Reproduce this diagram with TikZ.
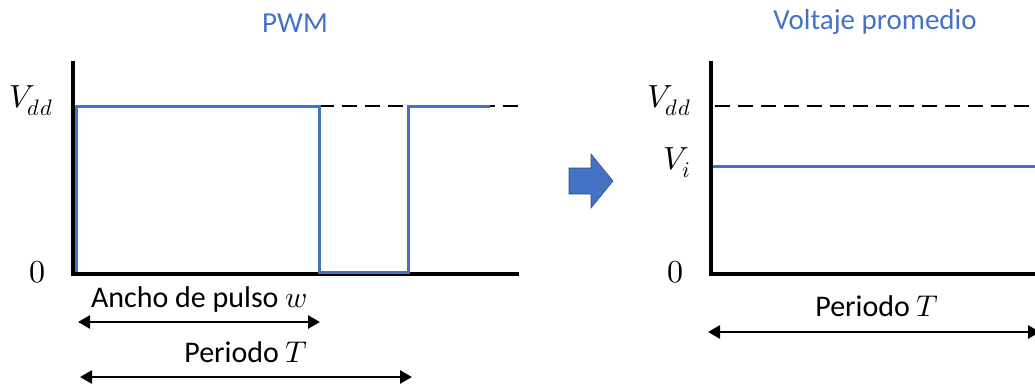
\documentclass[tikz,border=0pt]{standalone}
\usepackage{fontspec}
\usepackage{unicode-math}
\setmainfont{Carlito}
\setmathfont{Latin Modern Math}
\usetikzlibrary{arrows.meta}
\definecolor{wblue}{HTML}{4472C4}
\definecolor{wblueD}{HTML}{2F528F}
\begin{document}
\begin{tikzpicture}[x=1pt,y=-1pt,
  axis/.style={line width=4pt,black},
  wave/.style={line width=3pt,wblue},
  ref/.style={line width=2pt,black,dash pattern=on 15pt off 8pt},
  span/.style={line width=2.6pt,black,{Triangle[length=12pt,width=13pt]}-{Triangle[length=12pt,width=13pt]}},
  lbl/.style={inner sep=0pt,font=\fontsize{30}{32}\selectfont},
  mlbl/.style={inner sep=0pt,font=\fontsize{32}{34}\selectfont},
  ttl/.style={inner sep=0pt,font=\fontsize{29}{31}\selectfont,text=wblue}]
\useasboundingbox (0,0) rectangle (1035,384);
% ---------- left plot ----------
\coordinate (ltop) at (73,61);
\coordinate (lend) at (519,274);
\draw[axis] (73,276) -- (ltop);
\draw[axis] (71,274) -- (lend);
\coordinate (w0) at (76,272);
\coordinate (w1) at (76,106);
\coordinate (w2) at (319,106);
\coordinate (w3) at (319,272);
\coordinate (w4) at (408,272);
\coordinate (w5) at (408,106);
\coordinate (w6) at (490,106);
\coordinate (d1) at (520,106);
\draw[ref] (w2) -- (d1);
\draw[wave] (w0) -- (w1) -- (w2) -- (w3) -- (w4) -- (w5) -- (w6);
\node[mlbl] (lvdd) at (31,101) {$V_{dd}$};
\node[mlbl] (lzero) at (37,272) {$0$};
\node[ttl] (pwm) at (295,23) {PWM};
\node[lbl] (ancho) at (199,299) {Ancho de pulso $w$};
\coordinate (a1l) at (78,322);
\coordinate (a1r) at (320,322);
\draw[span] (a1l) -- (a1r);
\node[lbl] (per1) at (246,352) {Periodo $T$};
\coordinate (a2l) at (80,377);
\coordinate (a2r) at (412,377);
\draw[span] (a2l) -- (a2r);
% ---------- block arrow ----------
\fill[wblue,draw=wblueD,line width=0.6pt] (569,168) -- (591,168) -- (591,154) -- (613,181) -- (591,208) -- (591,194) -- (569,194) -- cycle;
% ---------- right plot ----------
\coordinate (rtop) at (711,61);
\coordinate (rend) at (1045,274);
\draw[axis] (711,276) -- (rtop);
\draw[axis] (709,274) -- (rend);
\coordinate (rd0) at (715,106);
\coordinate (rd1) at (1045,106);
\draw[ref] (rd0) -- (rd1);
\coordinate (vi0) at (713,166);
\coordinate (vi1) at (1045,166);
\draw[wave] (vi0) -- (vi1);
\node[mlbl] (rvdd) at (669,101) {$V_{dd}$};
\node[mlbl] (rvi) at (677,163) {$V_i$};
\node[mlbl] (rzero) at (675,272) {$0$};
\node[ttl] (vp) at (875,22) {Voltaje promedio};
\node[lbl] (per2) at (877,306) {Periodo $T$};
\coordinate (a3l) at (708,332);
\coordinate (a3r) at (1040,332);
\draw[span] (a3l) -- (a3r);
\end{tikzpicture}
\end{document}
